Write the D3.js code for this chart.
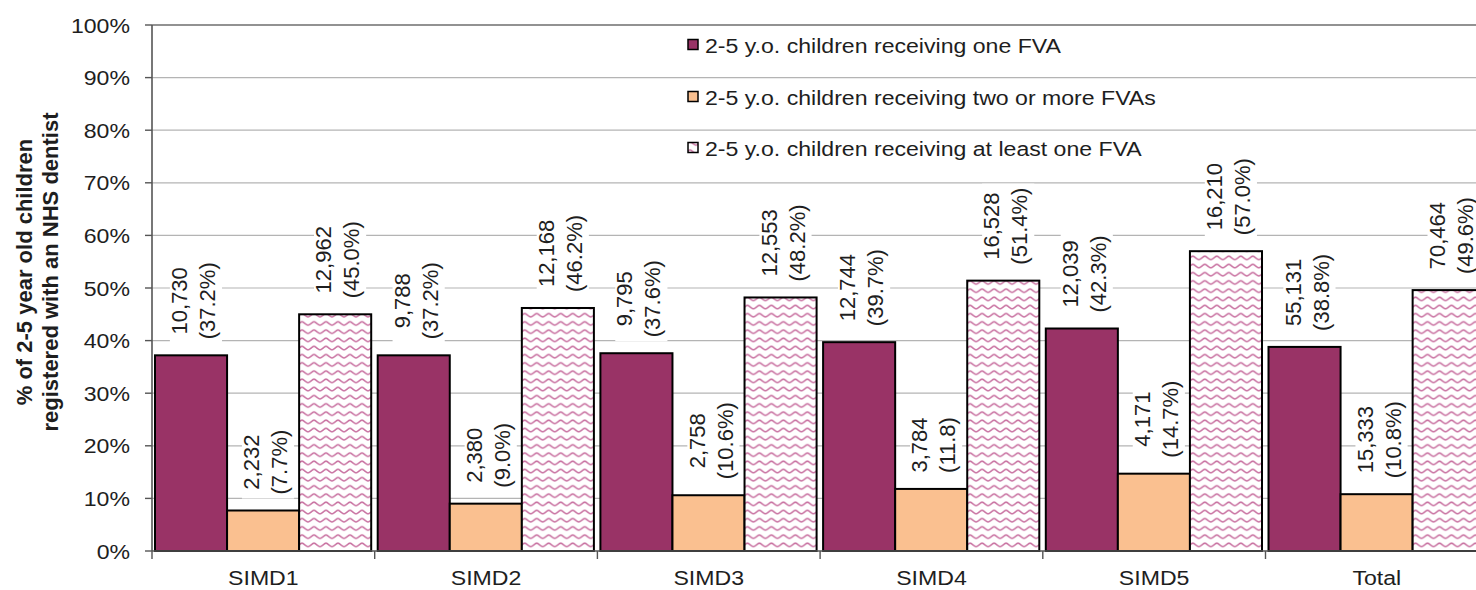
<!DOCTYPE html>
<html>
<head>
<meta charset="utf-8">
<script src="https://cdn.jsdelivr.net/npm/d3@7"></script>
<style>
html,body{margin:0;padding:0;background:#fff;overflow:hidden;}
svg{display:block;font-family:"Liberation Sans",Arial,sans-serif;}
</style>
</head>
<body>
<svg id="chart" width="1476" height="590"></svg>
<script>
// ---- data ----
const categories = ["SIMD1", "SIMD2", "SIMD3", "SIMD4", "SIMD5", "Total"];
const seriesNames = [
  "2-5 y.o. children receiving one FVA",
  "2-5 y.o. children receiving two or more FVAs",
  "2-5 y.o. children receiving at least one FVA"
];
const oneFVAPct = [37.2, 37.2, 37.6, 39.7, 42.3, 38.8];
const oneFVACount = ["10,730", "9,788", "9,795", "12,744", "12,039", "55,131"];
const twoPlusPct = [7.7, 9.0, 10.6, 11.8, 14.7, 10.8];
const twoPlusCount = ["2,232", "2,380", "2,758", "3,784", "4,171", "15,333"];
const atLeastOnePct = [45.0, 46.2, 48.2, 51.4, 57.0, 49.6];
const atLeastOneCount = ["12,962", "12,168", "12,553", "16,528", "16,210", "70,464"];
const yTicks = [0, 10, 20, 30, 40, 50, 60, 70, 80, 90, 100];
const yTitle = ["% of 2-5 year old children", "registered with an NHS dentist"];

const seriesValues = [oneFVAPct, twoPlusPct, atLeastOnePct];
const seriesCounts = [oneFVACount, twoPlusCount, atLeastOneCount];
// label second line (SIMD4 two-or-more label appears without % sign in source)
function pctText(s, i) {
  const v = seriesValues[s][i];
  if (s === 1 && i === 3) return "(" + v.toFixed(1) + ")";
  return "(" + v.toFixed(1) + "%)";
}

// ---- layout ----
const svg = d3.select("#chart");
const plotLeft = 152, plotTop = 25, plotBottom = 551, band = 222.7;
const y = d3.scaleLinear().domain([0, 100]).range([plotBottom, plotTop]);
const x0 = d3.scaleBand().domain(categories).range([plotLeft, plotLeft + band * categories.length]).padding(0);
const x1 = d3.scaleBand().domain(d3.range(3)).range([3, band - 3.5]).padding(0);

const fills = ["#993366", "#FAC090", "url(#wave)"];
const textColor = "#1e1e1e";
const SX = 1.1; // horizontal stretch of source typography

// pattern
const defs = svg.append("defs");
const pat = defs.append("pattern").attr("id", "wave").attr("patternUnits", "userSpaceOnUse")
  .attr("width", 12).attr("height", 8.2);
pat.append("rect").attr("width", 12).attr("height", 8.2).attr("fill", "#fff");
pat.append("path").attr("d", "M0,5.4 C2,5.4 4,2 6,2 C8,2 10,5.4 12,5.4")
  .attr("fill", "none").attr("stroke", "#c05a92").attr("stroke-width", 1.6).attr("opacity", 0.85);

// gridlines
svg.append("g").selectAll("line").data(yTicks.filter(d => d > 0)).join("line")
  .attr("x1", plotLeft).attr("x2", 1476).attr("y1", d => y(d)).attr("y2", d => y(d))
  .attr("stroke", d => d === 100 ? "#6e6e6e" : "#b4b4b4").attr("stroke-width", d => d === 100 ? 1.6 : 1.2);

// bars
const groups = svg.append("g").selectAll("g").data(categories).join("g")
  .attr("transform", d => `translate(${x0(d)},0)`);
groups.selectAll("rect").data((c, i) => seriesValues.map((arr, s) => ({s, i, v: arr[i]}))).join("rect")
  .attr("x", d => x1(d.s)).attr("width", x1.bandwidth())
  .attr("y", d => y(d.v)).attr("height", d => y(0) - y(d.v))
  .attr("fill", d => fills[d.s]).attr("stroke", "#000").attr("stroke-width", 2);

// data labels
const labelFont = 22, gap = 16, lineGap = 28;
const labG = svg.append("g");
categories.forEach((c, i) => {
  seriesValues.forEach((arr, s) => {
    const cx = x0(c) + x1(s) + x1.bandwidth() / 2;
    const barTop = y(arr[i]);
    const g = labG.append("g");
    const bg = g.append("rect").attr("fill", "#fff");
    const t1 = g.append("text").text(seriesCounts[s][i]).attr("text-anchor", "middle")
      .attr("font-size", labelFont).attr("fill", textColor).attr("y", -4);
    const t2 = g.append("text").text(pctText(s, i)).attr("text-anchor", "middle")
      .attr("font-size", labelFont).attr("fill", textColor).attr("y", -4 + lineGap);
    const L = Math.max(t1.node().getComputedTextLength(), t2.node().getComputedTextLength());
    const cy = barTop - gap - L / 2;
    bg.attr("x", -L / 2 - 4).attr("width", L + 8).attr("y", -4 - labelFont * 0.78).attr("height", lineGap + labelFont * 0.78 + 7);
    g.attr("transform", `translate(${cx},${cy}) rotate(-90)`);
  });
});

// axes
svg.append("line").attr("x1", plotLeft).attr("x2", plotLeft).attr("y1", plotTop).attr("y2", plotBottom)
  .attr("stroke", "#555").attr("stroke-width", 1.6);
svg.append("line").attr("x1", plotLeft).attr("x2", 1476).attr("y1", plotBottom).attr("y2", plotBottom)
  .attr("stroke", "#555").attr("stroke-width", 1.6);
svg.append("g").selectAll("line").data(yTicks).join("line")
  .attr("x1", plotLeft - 7).attr("x2", plotLeft).attr("y1", d => y(d)).attr("y2", d => y(d))
  .attr("stroke", "#555").attr("stroke-width", 1.4);
svg.append("g").selectAll("line").data(d3.range(categories.length + 1)).join("line")
  .attr("x1", d => plotLeft + d * band).attr("x2", d => plotLeft + d * band)
  .attr("y1", plotBottom).attr("y2", plotBottom + 8).attr("stroke", "#555").attr("stroke-width", 1.4);

// y tick labels
svg.append("g").selectAll("g").data(yTicks).join("g")
  .attr("transform", d => `translate(130,${y(d) + 7.5}) scale(${SX},1)`)
  .append("text").attr("text-anchor", "end").attr("font-size", 21).attr("fill", textColor)
  .text(d => d + "%");

// x labels
svg.append("g").selectAll("g").data(categories).join("g")
  .attr("transform", d => `translate(${x0(d) + band / 2},585) scale(${SX},1)`)
  .append("text").attr("text-anchor", "middle").attr("font-size", 21).attr("fill", textColor)
  .text(d => d);

// y title
const yt = svg.append("g").attr("transform", "translate(0,272) rotate(-90)");
yt.selectAll("text").data(yTitle).join("text")
  .attr("x", 0).attr("y", (d, i) => 32 + i * 26)
  .attr("text-anchor", "middle").attr("font-size", 22).attr("font-weight", "bold").attr("fill", textColor)
  .text(d => d);

// legend
const legRows = [45, 97, 148];
const leg = svg.append("g").selectAll("g").data(seriesNames).join("g")
  .attr("transform", (d, i) => `translate(0,${legRows[i]})`);
leg.append("rect").attr("x", 688).attr("y", -5.5).attr("width", 10).attr("height", 10)
  .attr("fill", (d, i) => fills[i]).attr("stroke", "#000").attr("stroke-width", 1.5);
leg.append("g").attr("transform", `translate(705,7.5) scale(${SX},1)`)
  .append("text").attr("font-size", 21).attr("fill", textColor).text(d => d);
</script>
</body>
</html>
